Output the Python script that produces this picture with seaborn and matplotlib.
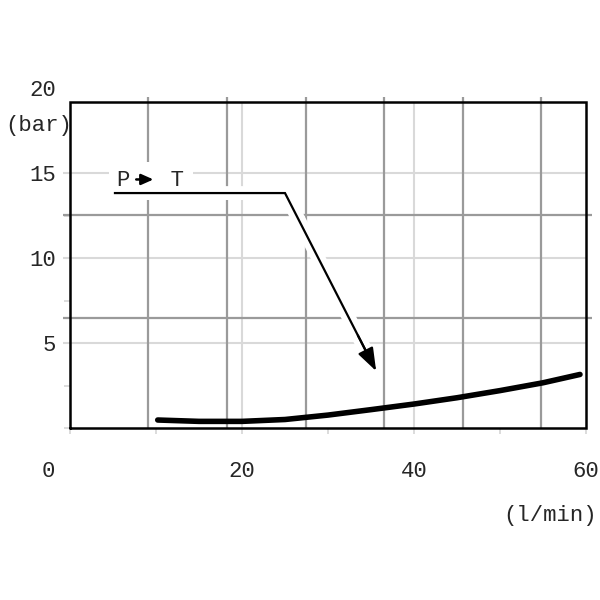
import matplotlib
matplotlib.use("Agg")
import matplotlib.pyplot as plt
import matplotlib.patheffects as pe
from matplotlib.transforms import ScaledTranslation
import seaborn as sns
import pandas as pd

# curve P -> T, pressure drop vs flow
flow = [10.2, 15, 20, 25, 30, 35, 40, 45, 50, 55, 59.3]
pressure = [0.47, 0.39, 0.39, 0.5, 0.76, 1.08, 1.41, 1.78, 2.2, 2.66, 3.15]

x_ticks = [0, 20, 40, 60]
x_minor = [10, 30, 50]
y_ticks = [5, 10, 15, 20]
y_minor = [0, 2.5, 7.5, 12.5]

# second (scanned) grid, dark gray
grid2_x = [9.07, 18.26, 27.4, 36.5, 45.7, 54.8]
grid2_y = [6.47, 12.53]

# P -> T leader line (start, bend, tip)
leader_x = [5.1, 25.0, 35.6]
leader_y = [13.82, 13.82, 3.35]

top = 19.2

sns.set_theme(style="white")
plt.rcParams["font.family"] = ["Liberation Mono", "DejaVu Sans Mono", "DejaVu Sans"]

fig = plt.figure(figsize=(6, 6), dpi=100)
ax = fig.add_axes([70 / 600, 172 / 600, 516 / 600, 340 / 600])
ax.set_xlim(0, 60)
ax.set_ylim(0, 20)
for s in ax.spines.values():
    s.set_visible(False)

light = "#d9d9d9"
dark = "#9a9a9a"

# light grid
ax.hlines([5, 10, 15], -0.8, 60, color=light, lw=1.5, zorder=1, clip_on=False)
ax.vlines([20, 40], 0, top, color=light, lw=1.5, zorder=1)

# dark grid
ax.vlines(grid2_x, 0, 19.47, color=dark, lw=1.6, zorder=2, clip_on=False)
ax.hlines(grid2_y, -0.8, 60.7, color=dark, lw=1.6, zorder=2, clip_on=False)

# frame
ax.plot([0, 60, 60, 0, 0], [0, 0, top, top, 0], color="black", lw=1.8,
        zorder=5, clip_on=False, solid_joinstyle="miter")

df = pd.DataFrame({"flow": flow, "pressure": pressure})
sns.lineplot(data=df, x="flow", y="pressure", color="black", lw=4,
             ax=ax, zorder=6)

# annotation label
ax.text(5.5, 14.55, "P   T", fontsize=16, va="center", ha="left",
        zorder=3, bbox=dict(facecolor="white", edgecolor="none", pad=6))
ax.annotate("", xy=(9.7, 14.62), xytext=(7.7, 14.62),
            arrowprops=dict(arrowstyle="-|>,head_length=0.45,head_width=0.2",
                            color="black", lw=1.8, mutation_scale=16,
                            shrinkA=0, shrinkB=0), zorder=4)

# leader line with arrow head at the tip
dx = leader_x[2] - leader_x[1]
dy = leader_y[2] - leader_y[1]
end_x = leader_x[2] - 0.1 * dx
end_y = leader_y[2] - 0.1 * dy
ax.plot(leader_x[:2] + [end_x], leader_y[:2] + [end_y],
        color="black", lw=1.6, zorder=4,
        path_effects=[pe.withStroke(linewidth=10, foreground="white")],
        solid_capstyle="butt", solid_joinstyle="miter")
ax.annotate("", xy=(leader_x[2], leader_y[2]),
            xytext=(leader_x[2] - 0.2 * dx, leader_y[2] - 0.2 * dy),
            arrowprops=dict(arrowstyle="-|>,head_length=0.7,head_width=0.25",
                            color="black", lw=1.6, mutation_scale=20,
                            shrinkA=0, shrinkB=0), zorder=4)

ax.set_xticks(x_ticks)
ax.set_xticklabels([str(v) for v in x_ticks])
ax.set_xticks(x_minor, minor=True)
ax.set_yticks(y_ticks)
ax.set_yticklabels([str(v) for v in y_ticks])
ax.set_yticks(y_minor, minor=True)
ax.tick_params(axis="x", which="both", direction="out", length=4,
               width=1.3, color=light, pad=20, labelsize=16, bottom=True)
ax.tick_params(axis="y", which="major", length=0, pad=10, labelsize=16,
               left=True)
ax.tick_params(axis="y", which="minor", direction="out", length=4,
               width=1.3, color=light, left=True)
ax.set_xlabel("")
ax.set_ylabel("")

# "0" label sits left of the origin
lab0 = ax.get_xticklabels()[0]
lab0.set_transform(lab0.get_transform() + ScaledTranslation(-0.22, 0, fig.dpi_scale_trans))

fig.text(5 / 600, 1 - 126 / 600, "(bar)", fontsize=16, va="center", ha="left")
fig.text(503 / 600, 1 - 515 / 600, "(l/min)", fontsize=16, va="center", ha="left")

fig.savefig("out.png", dpi=100)
